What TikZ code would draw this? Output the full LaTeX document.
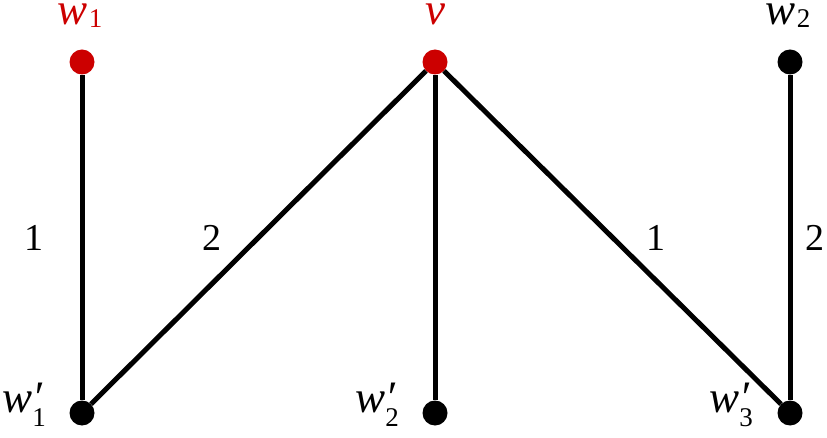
\documentclass[tikz,border=0pt]{standalone}
\usepackage{fontspec}
\setmainfont{Liberation Serif}
\definecolor{vred}{RGB}{204,0,0}
\newcommand{\subdig}[2]{\raisebox{#1}{\fontsize{27}{27}\selectfont #2}}
\newcommand{\wlab}[1]{\textit{w}\kern0.03em\subdig{-0.05em}{#1}}
\newcommand{\wplab}[1]{\textit{w}\makebox[0pt][l]{\raisebox{0.0em}{\textit{′}}}\subdig{-0.33em}{#1}}
\begin{document}
\begin{tikzpicture}[x=1pt,y=-1pt,
  dot/.style={circle,fill=black,inner sep=0pt,minimum size=25pt},
  reddot/.style={dot,fill=vred},
  edge/.style={line width=5pt},
  lab/.style={font=\fontsize{45}{48}\selectfont,inner sep=0pt},
  elab/.style={font=\fontsize{38}{42}\selectfont,inner sep=0pt}]
\useasboundingbox (0,0) rectangle (827,438);
\node[reddot] (w1) at (82,62) {};
\node[reddot] (v) at (435,62) {};
\node[dot] (w2) at (790,62) {};
\node[dot] (w1p) at (82,413) {};
\node[dot] (w2p) at (435,413) {};
\node[dot] (w3p) at (790,413) {};
\draw[edge] (w1) -- (w1p);
\draw[edge] (v) -- (w1p);
\draw[edge] (v) -- (w2p);
\draw[edge] (v) -- (w3p);
\draw[edge] (w2) -- (w3p);
\node[lab,text=vred,anchor=base] (lw1) at (80,25) {\wlab{1}};
\node[lab,text=vred,anchor=base] (lv) at (435,25) {\textit{v}};
\node[lab,anchor=base] (lw2) at (788,25) {\wlab{2}};
\node[lab,anchor=base east] (lw1p) at (46,412) {\wplab{1}};
\node[lab,anchor=base east] (lw2p) at (399,412) {\wplab{2}};
\node[lab,anchor=base east] (lw3p) at (753,412) {\wplab{3}};
\node[elab] (e1) at (34,238) {1};
\node[elab] (e2) at (212,238) {2};
\node[elab] (e3) at (656,238) {1};
\node[elab] (e4) at (815,238) {2};
\end{tikzpicture}
\end{document}
